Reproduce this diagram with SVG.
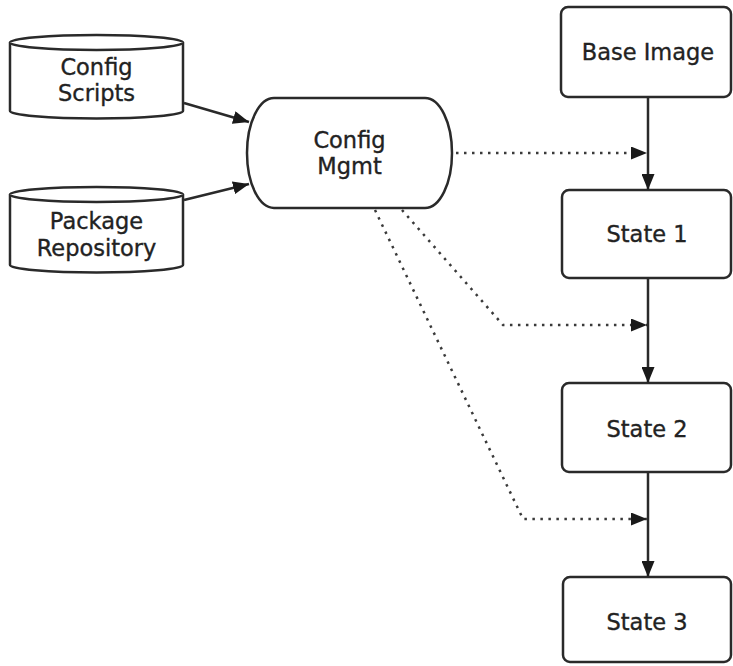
<svg xmlns="http://www.w3.org/2000/svg" width="733" height="666" viewBox="0 0 733 666">
  <defs>
    <marker id="head" viewBox="0 0 16 13" refX="16" refY="6.5" markerWidth="16" markerHeight="13" markerUnits="userSpaceOnUse" orient="auto">
      <path d="M0,0 L16,6.5 L0,13 Z" fill="#1a1a1a"/>
    </marker>
  </defs>
  <style>
    .shape { fill: #ffffff; stroke: #2a2a2a; stroke-width: 2.5; }
    .label { font-family: "DejaVu Sans", Verdana, sans-serif; font-size: 22.5px; fill: #222222; stroke: #222222; stroke-width: 0.35; text-anchor: middle; }
    .solid { fill: none; stroke: #2a2a2a; stroke-width: 2.5; marker-end: url(#head); }
    .dotted { fill: none; stroke: #3a3a3a; stroke-width: 2.5; stroke-dasharray: 2.5 5.5; marker-end: url(#head); }
  </style>
  <rect width="733" height="666" fill="#ffffff"/>

  <!-- data stores -->
  <g id="config-scripts">
    <path class="shape" d="M10,42.5 A86.5,7.5 0 0 1 183,42.5 V111 A86.5,7.5 0 0 1 10,111 Z"/>
    <path class="shape" fill="none" d="M10,42.5 A86.5,7.5 0 0 0 183,42.5"/>
    <text class="label" x="96.5" y="75">Config</text>
    <text class="label" x="96.5" y="101">Scripts</text>
  </g>
  <g id="package-repository">
    <path class="shape" d="M10,194.5 A86.5,7.5 0 0 1 183,194.5 V265 A86.5,7.5 0 0 1 10,265 Z"/>
    <path class="shape" fill="none" d="M10,194.5 A86.5,7.5 0 0 0 183,194.5"/>
    <text class="label" x="96.5" y="229">Package</text>
    <text class="label" x="96.5" y="256">Repository</text>
  </g>

  <!-- configuration management process -->
  <g id="config-mgmt">
    <path class="shape" d="M274,98 H425 A27,55 0 0 1 425,208 H274 A27,55 0 0 1 274,98 Z"/>
    <text class="label" x="349.5" y="148">Config</text>
    <text class="label" x="349.5" y="174">Mgmt</text>
  </g>

  <!-- image states -->
  <g id="base-image">
    <rect class="shape" x="561" y="7" width="170" height="90" rx="7"/>
    <text class="label" x="648" y="60">Base Image</text>
  </g>
  <g id="state-1">
    <rect class="shape" x="562" y="190" width="169" height="88" rx="7"/>
    <text class="label" x="647" y="242">State 1</text>
  </g>
  <g id="state-2">
    <rect class="shape" x="562" y="383" width="169" height="89" rx="7"/>
    <text class="label" x="647" y="437">State 2</text>
  </g>
  <g id="state-3">
    <rect class="shape" x="563" y="577" width="168" height="85" rx="7"/>
    <text class="label" x="647" y="630">State 3</text>
  </g>

  <!-- connectors -->
  <g id="connectors">
    <path class="solid" d="M184,103 L249,122"/>
    <path class="solid" d="M184,200 L249,184"/>
    <path class="solid" d="M648,97 V190"/>
    <path class="solid" d="M648,278 V383"/>
    <path class="solid" d="M648,472 V577"/>
    <path class="dotted" d="M456,153 H647"/>
    <path class="dotted" d="M402,210 L503,325 H647"/>
    <path class="dotted" d="M375,210 L523,519 H647"/>
  </g>
</svg>
